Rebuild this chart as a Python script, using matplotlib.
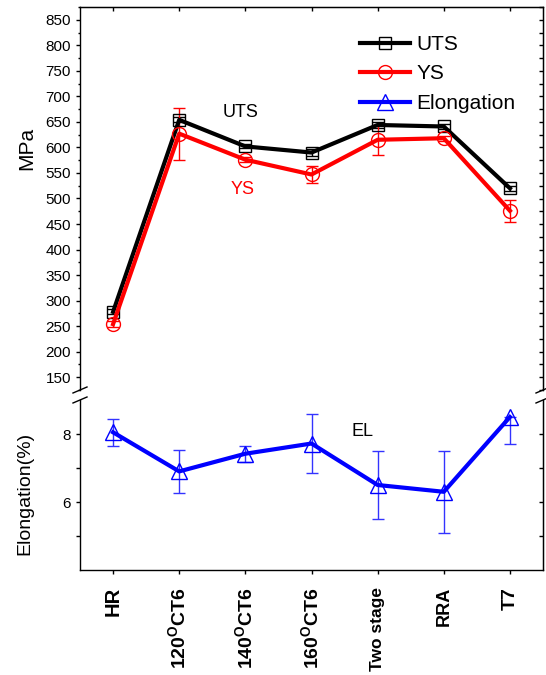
import matplotlib
matplotlib.use("Agg")
import matplotlib.pyplot as plt
from matplotlib.lines import Line2D
from matplotlib.ticker import MultipleLocator, FixedLocator

plt.rcParams['font.family'] = ['Liberation Sans', 'DejaVu Sans']
plt.rcParams['mathtext.fontset'] = 'custom'
plt.rcParams['mathtext.rm'] = 'Liberation Sans'
plt.rcParams['mathtext.bf'] = 'Liberation Sans:bold'

# Heat-treatment conditions
conditions = ['HR', r'120$^{\mathbf{O}}$CT6', r'140$^{\mathbf{O}}$CT6',
              r'160$^{\mathbf{O}}$CT6', 'Two stage', 'RRA', 'T7']
label_sizes = [14.5, 14, 14, 14, 12.5, 13, 14]

# Strength (MPa)
uts = [278, 654, 602, 590, 644, 641, 520]
uts_err = [5, 5, 4, 6, 5, 5, 5]
ys = [254, 627, 576, 547, 615, 618, 476]
ys_err = [6, 51, 5, 17, 29, 5, 22]

# Elongation (%): lower / upper error
elong = [8.05, 6.9, 7.42, 7.72, 6.5, 6.3, 8.5]
elong_err_lo = [0.4, 0.63, 0.24, 0.87, 1.0, 1.2, 0.78]
elong_err_hi = [0.4, 0.63, 0.24, 0.87, 1.0, 1.2, 0.0]

W, H = 546, 675
fig = plt.figure(figsize=(W / 100, H / 100), dpi=100)

def frac_box(left, top, right, bottom):
    return [left / W, 1 - bottom / H, (right - left) / W, (bottom - top) / H]

ax_top = fig.add_axes(frac_box(80, 7, 543, 390))
ax_bot = fig.add_axes(frac_box(80, 400, 543, 570))

x = list(range(len(conditions)))

# --- strength panel ---
ax_top.errorbar(x, uts, yerr=uts_err, fmt='none', ecolor='black',
                elinewidth=1, capsize=4, capthick=1, zorder=2)
ax_top.errorbar(x, ys, yerr=ys_err, fmt='none', ecolor='red',
                elinewidth=1, capsize=4, capthick=1, zorder=2)
l_uts, = ax_top.plot(x, uts, color='black', lw=3, marker='s', ms=9,
                     mfc='none', mec='black', mew=1, zorder=3)
l_ys, = ax_top.plot(x, ys, color='red', lw=3, marker='o', ms=10,
                    mfc='none', mec='red', mew=1, zorder=3)

ax_top.set_xlim(-0.5, 6.5)
ax_top.set_ylim(125, 875)
ax_top.yaxis.set_major_locator(FixedLocator(list(range(150, 851, 50))))
ax_top.yaxis.set_minor_locator(MultipleLocator(25))
ax_top.tick_params(axis='y', which='both', direction='out', left=True,
                   right=False, labelsize=11, width=1)
ax_top.tick_params(axis='y', which='major', length=3)
ax_top.tick_params(axis='y', which='minor', length=1.7)
ax_top.tick_params(axis='x', which='both', bottom=False, labelbottom=False)
ax_top.spines['bottom'].set_visible(False)

sec_r = ax_top.secondary_yaxis('right')
sec_r.yaxis.set_major_locator(MultipleLocator(25))
sec_r.tick_params(direction='in', length=3, labelright=False, width=1)
sec_t = ax_top.secondary_xaxis('top')
sec_t.xaxis.set_major_locator(FixedLocator(x))
sec_t.tick_params(direction='in', length=3, labeltop=False, width=1)

ax_top.set_ylabel('MPa', fontsize=15)
ax_top.yaxis.set_label_coords(-0.095, 0.63)

ax_top.text(1.93, 668, 'UTS', fontsize=13, color='black', ha='center', va='center')
ax_top.text(1.96, 517, 'YS', fontsize=13, color='red', ha='center', va='center')

# --- elongation panel ---
ax_bot.errorbar(x, elong, yerr=[elong_err_lo, elong_err_hi], fmt='none',
                ecolor='#3333ff', elinewidth=1, capsize=4, capthick=1, zorder=2)
l_el, = ax_bot.plot(x, elong, color='blue', lw=3, marker='^', ms=11,
                    mfc='none', mec='blue', mew=1, zorder=3)
ax_bot.set_xlim(-0.5, 6.5)
ax_bot.set_ylim(4, 9)
ax_bot.yaxis.set_major_locator(FixedLocator([6, 8]))
ax_bot.yaxis.set_minor_locator(FixedLocator([5, 7]))
ax_bot.tick_params(axis='y', which='both', direction='out', left=True,
                   right=False, labelsize=11, width=1)
ax_bot.tick_params(axis='y', which='major', length=3)
ax_bot.tick_params(axis='y', which='minor', length=3)
ax_bot.spines['top'].set_visible(False)
ax_bot.set_xticks(x)
ax_bot.set_xticklabels(conditions, rotation=90, fontweight='bold')
for lab, fs in zip(ax_bot.get_xticklabels(), label_sizes):
    lab.set_fontsize(fs)
ax_bot.tick_params(axis='x', direction='out', length=3, width=1, pad=9)

sec_rb = ax_bot.secondary_yaxis('right')
sec_rb.yaxis.set_major_locator(FixedLocator([5, 6, 7, 8]))
sec_rb.tick_params(direction='in', length=3, labelright=False, width=1)

ax_bot.set_ylabel('Elongation(%)', fontsize=14)
ax_bot.yaxis.set_label_coords(-0.101, 0.45)
ax_bot.text(3.77, 8.06, 'EL', fontsize=13, color='black', ha='center', va='center')

for a in (ax_top, ax_bot):
    for s in a.spines.values():
        s.set_linewidth(1)

# axis-break slashes on both vertical spines
for px in (80, 543):
    for py in (390, 400):
        fig.add_artist(Line2D([(px - 7) / W, (px + 7) / W],
                              [1 - (py + 3) / H, 1 - (py - 3) / H],
                              color='black', lw=1))

leg = fig.legend([l_uts, l_ys, l_el], ['UTS', 'YS', 'Elongation'],
                 loc='upper left', bbox_to_anchor=(360 / W, 1 - 35 / H),
                 frameon=False, fontsize=15, handlelength=2.4,
                 handletextpad=0.3, labelspacing=0.5, borderpad=0,
                 borderaxespad=0)

fig.savefig('out.png', dpi=100)
